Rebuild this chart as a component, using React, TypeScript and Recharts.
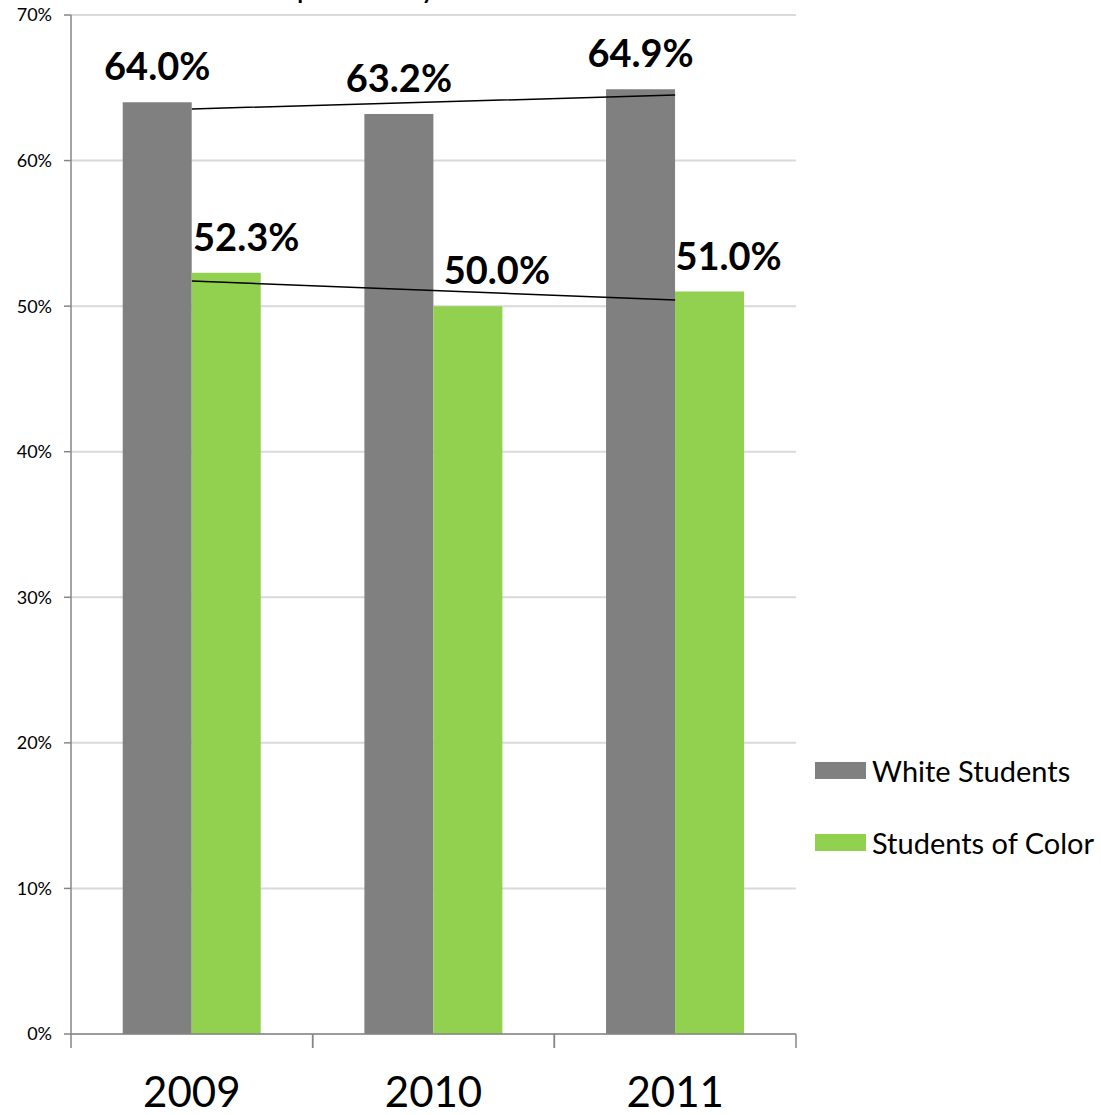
import {
  ComposedChart,
  Bar,
  Line,
  XAxis,
  YAxis,
  CartesianGrid,
  Legend,
  LabelList,
} from "recharts";

const YEARS = ["2009", "2010", "2011"];
const WHITE = [64.0, 63.2, 64.9];
const COLOR = [52.3, 50.0, 51.0];
// linear trend lines
const WHITE_TREND = [63.55, 64.02, 64.5];
const COLOR_TREND = [51.73, 51.08, 50.42];
const Y_TICKS = [0, 10, 20, 30, 40, 50, 60, 70];

const SERIES = [
  { key: "white", name: "White Students", fill: "#808080" },
  { key: "color", name: "Students of Color", fill: "#92d050" },
];

// the green labels sit a bit to the right of their bars
const COLOR_LABEL_DX = [20, 29, 19];

const FONT = "Lato, 'Open Sans', sans-serif";
const AXIS_GRAY = "#868686";

const data = YEARS.map((year, i) => ({
  year,
  white: WHITE[i],
  color: COLOR[i],
  whiteTrend: WHITE_TREND[i],
  colorTrend: COLOR_TREND[i],
}));

function makeLabel(dxs: number[] | null) {
  return (props: any) => {
    const { x, y, width, value, index } = props;
    const dx = dxs ? dxs[index] : 0;
    return (
      <text
        x={x + width / 2 + dx}
        y={y - 22}
        textAnchor="middle"
        fontFamily={FONT}
        fontWeight={700}
        fontSize={38}
        fill="#000"
      >
        {value.toFixed(1)}%
      </text>
    );
  };
}

// year label plus tick marks at the category edges (Excel style)
function YearTick(props: any) {
  const { x, y, payload } = props;
  const half = payload && payload.offset ? payload.offset : 0;
  return (
    <g>
      {half > 0 && (
        <>
          <line x1={x - half} x2={x - half} y1={y} y2={y + 14} stroke={AXIS_GRAY} strokeWidth={1.5} />
          <line x1={x + half} x2={x + half} y1={y} y2={y + 14} stroke={AXIS_GRAY} strokeWidth={1.5} />
        </>
      )}
      <text x={x} y={y + 73} textAnchor="middle" fontFamily={FONT} fontSize={42} fill="#000">
        {payload.value}
      </text>
    </g>
  );
}

function LegendBox() {
  return (
    <div style={{ fontFamily: FONT, fontSize: 29, color: "#000" }}>
      {SERIES.map((s) => (
        <div key={s.key} style={{ display: "flex", alignItems: "center", height: 36, marginBottom: 36 }}>
          <span style={{ display: "inline-block", width: 51, height: 17, background: s.fill, marginRight: 6 }} />
          <span>{s.name}</span>
        </div>
      ))}
    </div>
  );
}

export default function App() {
  return (
    <div style={{ position: "absolute", left: 0, top: 0, width: 1101, height: 1115, background: "#fff", overflow: "hidden" }}>
      <div
        style={{
          position: "absolute",
          left: 231,
          top: -33,
          fontFamily: FONT,
          fontSize: 32,
          lineHeight: "36px",
          whiteSpace: "nowrap",
        }}
      >
        Completion by Year
      </div>
      <ComposedChart
        width={1101}
        height={1115}
        data={data}
        margin={{ top: 15, right: 305, left: 0, bottom: 0 }}
        barCategoryGap="21.4%"
        barGap={0}
      >
        <CartesianGrid vertical={false} stroke="#d9d9d9" strokeWidth={2} />
        <XAxis
          dataKey="year"
          height={81}
          tickLine={false}
          tickSize={0}
          tickMargin={0}
          axisLine={{ stroke: AXIS_GRAY, strokeWidth: 1.5 }}
          tick={<YearTick />}
        />
        <YAxis
          width={71}
          domain={[0, 70]}
          ticks={Y_TICKS}
          tickFormatter={(v: number) => `${v}%`}
          axisLine={{ stroke: AXIS_GRAY, strokeWidth: 1.5 }}
          tickLine={{ stroke: AXIS_GRAY, strokeWidth: 1.5 }}
          tickSize={7}
          tickMargin={12}
          tick={{ fontFamily: FONT, fontSize: 18, fill: "#000" }}
        />
        <Legend
          layout="vertical"
          align="center"
          verticalAlign="middle"
          wrapperStyle={{ left: 815, top: 752, width: 290 }}
          content={() => <LegendBox />}
        />
        <Bar dataKey="white" name="White Students" fill="#808080" isAnimationActive={false}>
          <LabelList dataKey="white" content={makeLabel(null)} />
        </Bar>
        <Bar dataKey="color" name="Students of Color" fill="#92d050" isAnimationActive={false}>
          <LabelList dataKey="color" content={makeLabel(COLOR_LABEL_DX)} />
        </Bar>
        <Line
          dataKey="whiteTrend"
          type="linear"
          stroke="#000"
          strokeWidth={1.5}
          dot={false}
          legendType="none"
          isAnimationActive={false}
        />
        <Line
          dataKey="colorTrend"
          type="linear"
          stroke="#000"
          strokeWidth={1.5}
          dot={false}
          legendType="none"
          isAnimationActive={false}
        />
      </ComposedChart>
    </div>
  );
}
